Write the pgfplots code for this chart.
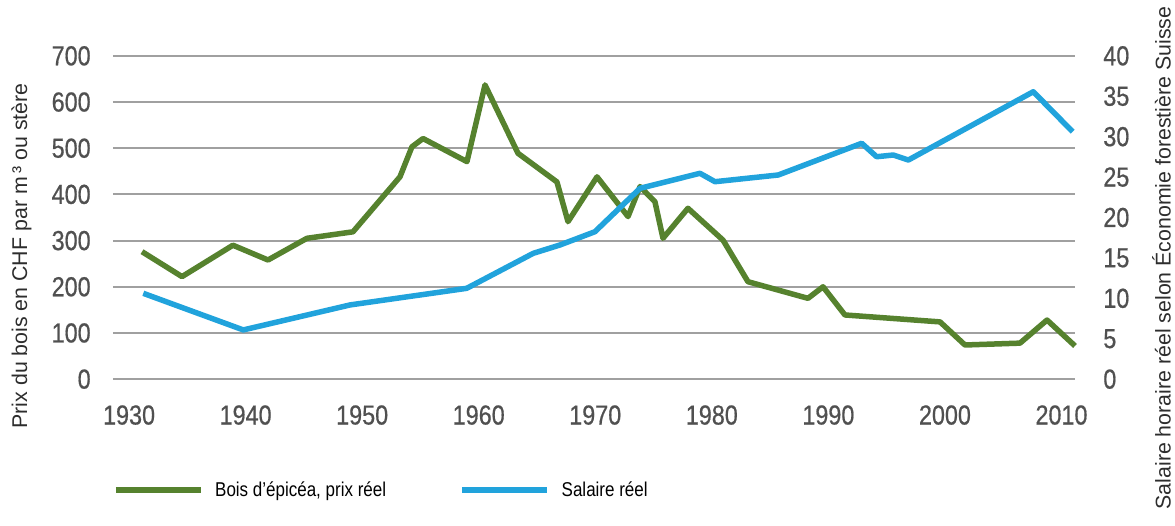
\documentclass[border=0pt]{standalone}
\usepackage{fontspec}
\setmainfont{Liberation Sans}
\newfontfamily\narrow[FakeStretch=0.85,FakeBold=0.6]{Liberation Sans}
\newfontfamily\legfont[FakeStretch=0.85]{Liberation Sans}
\usepackage{pgfplots}
\pgfplotsset{compat=1.18}
\definecolor{woodgreen}{RGB}{86,130,46}
\definecolor{wageblue}{RGB}{33,163,220}
\definecolor{gridgray}{RGB}{160,160,160}
\definecolor{ticktext}{RGB}{80,80,80}
\definecolor{labeltext}{RGB}{45,45,45}
\pgfplotsset{
  common/.style={
    scale only axis, width=577.2pt, height=194.0pt,
    xmin=1928.62, xmax=2011.16, clip=false,
    major tick length=0pt,
    axis line style={draw=none},
    tick label style={font=\narrow\fontsize{16.5}{16.5}\selectfont, text=ticktext, inner sep=0pt},
    label style={font=\fontsize{12.8}{14}\selectfont, text=labeltext},
  },
}
\begin{document}
\begin{tikzpicture}
\path[use as bounding box] (-67.8pt,-88.1pt) rectangle (637.2pt,227.5pt);
\begin{axis}[common,
  ymin=0, ymax=700,
  ytick={0,100,...,700},
  yticklabels={0,100,200,300,400,500,600,700},
  yticklabel style={anchor=east, xshift=-13.2pt},
  xtick={1930,1940,1950,1960,1970,1980,1990,2000,2010},
  xticklabels={1930,1940,1950,1960,1970,1980,1990,2000,2010},
  xticklabel style={anchor=north, yshift=-15.5pt},
  ymajorgrids, grid style={gridgray, line width=1.2pt},
  ylabel={Prix du bois en CHF par m\,³ ou stère},
  ylabel style={at={(axis description cs:-0.0951,0.381)}, anchor=center},
]
\addplot[woodgreen, line width=3.3pt, line join=round] table {
x y
1931.11 276
1934.54 222
1938.91 290
1941.92 258
1945.26 305
1949.21 319
1953.24 438
1954.27 503
1955.22 521
1958.99 471
1960.54 637
1963.37 489
1966.71 427
1967.66 341
1970.15 438
1972.81 352
1973.84 417
1975.12 384
1975.81 305
1977.95 370
1980.96 301
1983.10 211
1988.25 175
1989.54 200
1991.42 139
1999.58 124
2001.72 74
2006.44 78
2008.76 128
2011.16 72
};
\end{axis}
\begin{axis}[common,
  ymin=0, ymax=40,
  axis x line=none,
  axis y line*=right,
  y axis line style={draw=none},
  ytick={0,5,...,40},
  yticklabels={0,5,10,15,20,25,30,35,40},
  yticklabel style={anchor=west, xshift=16.8pt},
  ylabel={Salaire horaire réel selon Économie forestière Suisse},
  ylabel style={at={(axis description cs:1.0900,0.375)}, anchor=center, rotate=0},
  legend columns=2,
  legend style={draw=none, fill=none, inner sep=0pt, outer sep=0pt,
    at={(axis description cs:0,-0.3426)}, anchor=west,
    font=\legfont\fontsize{12}{12}\selectfont, text=black,
    nodes={inner sep=0pt},
    /tikz/every odd column/.append style={column sep=7pt},
    /tikz/every even column/.append style={column sep=44pt}},
  legend image code/.code={\draw[#1] (0pt,0pt) -- (51pt,0pt);},
]
\addlegendimage{woodgreen, line width=3.3pt}
\addlegendentry{Bois d’épicéa, prix réel}
\addplot[wageblue, line width=3.3pt, line join=round] table {
x y
1931.22 10.62
1939.80 6.09
1948.95 9.18
1958.97 11.24
1964.68 15.57
1966.97 16.60
1969.97 18.24
1973.84 23.61
1978.98 25.47
1980.27 24.43
1985.70 25.26
1992.86 29.18
1994.14 27.52
1995.57 27.73
1996.86 27.11
2007.58 35.56
2010.96 30.61
};
\addlegendentry{Salaire réel}
\end{axis}
\end{tikzpicture}
\end{document}
